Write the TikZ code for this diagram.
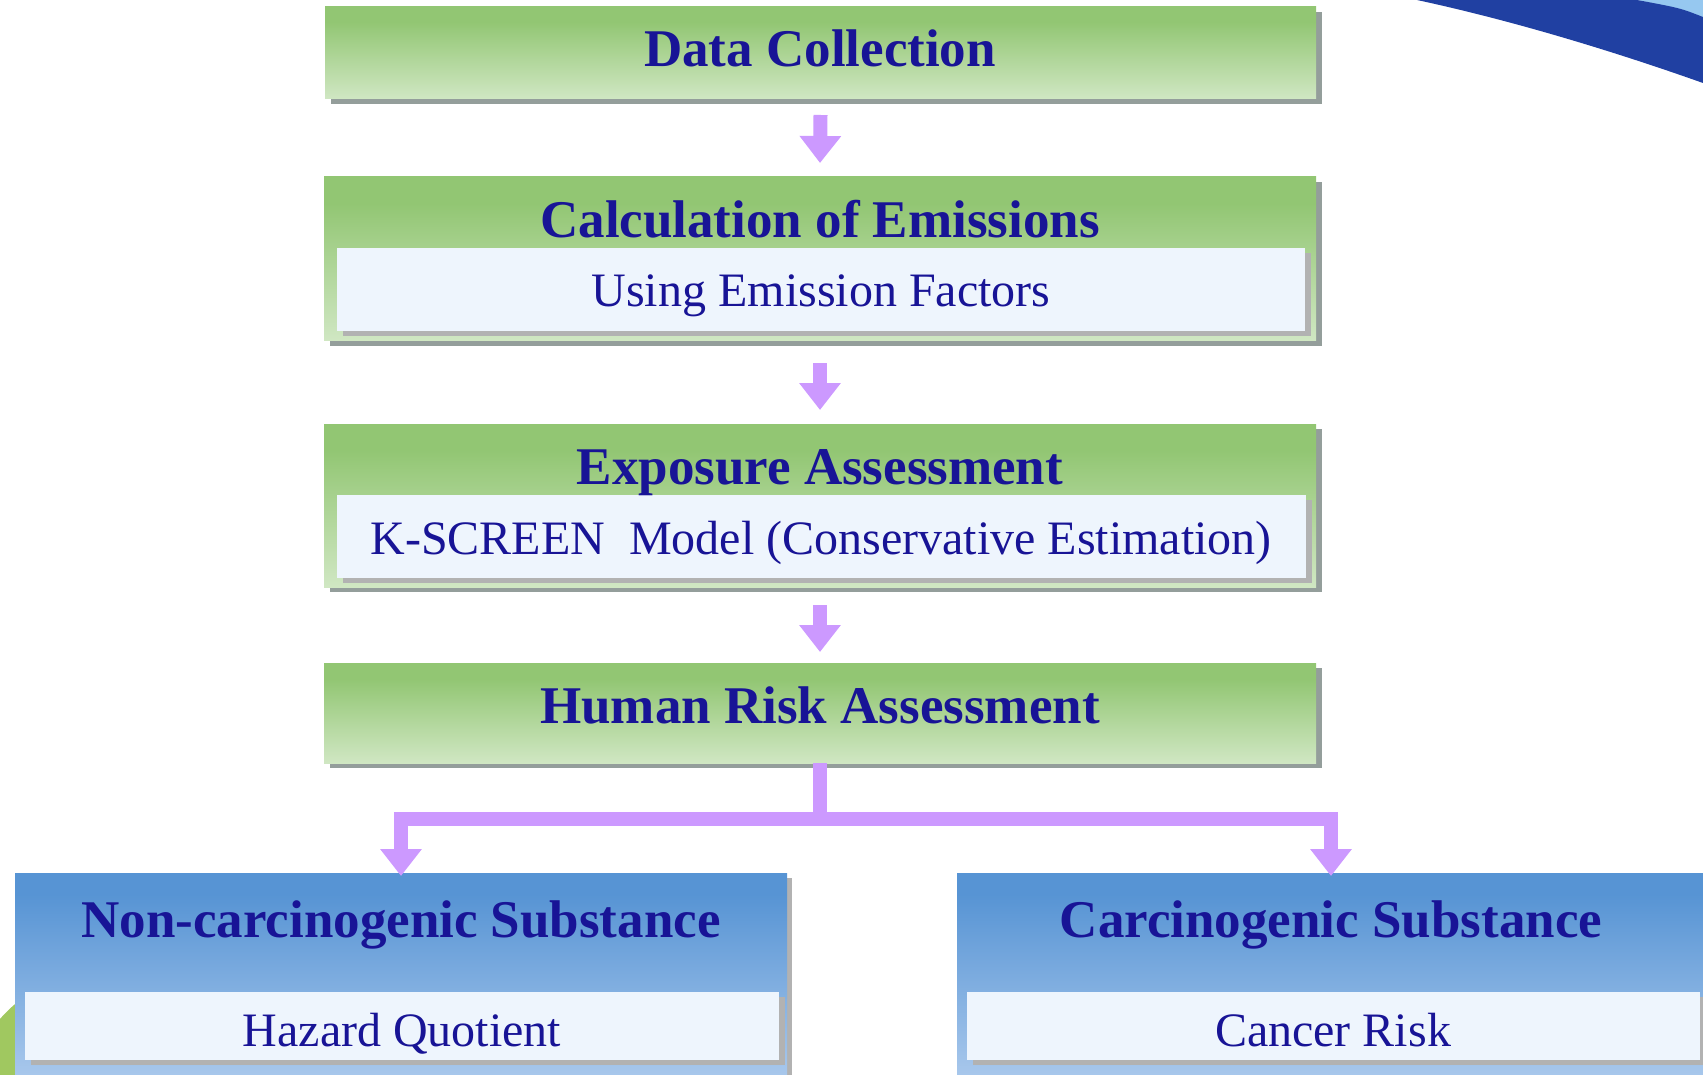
\documentclass[tikz,border=0pt]{standalone}
\usepackage{fontspec}
\setmainfont{Liberation Serif}
\usetikzlibrary{arrows.meta,shadows}

\definecolor{gtop}{RGB}{146,198,115}
\definecolor{gbot}{RGB}{208,231,195}
\definecolor{btop}{RGB}{87,148,212}
\definecolor{bbot}{RGB}{172,202,237}
\definecolor{shout}{RGB}{148,158,155}
\definecolor{shin}{RGB}{178,178,178}
\definecolor{innerfill}{RGB}{238,245,253}
\definecolor{txt}{RGB}{24,20,150}
\definecolor{arrowc}{RGB}{204,153,255}
\definecolor{swoosh}{RGB}{32,64,162}
\definecolor{swooshlight}{RGB}{150,200,240}
\definecolor{leaf}{RGB}{160,200,96}

% green and blue header fades: solid at the top, lighter towards the bottom
\pgfdeclareverticalshading{greenfade}{100bp}{color(0bp)=(gbot); color(25bp)=(gbot); color(67bp)=(gtop); color(100bp)=(gtop)}
\pgfdeclareverticalshading{bluefade}{100bp}{color(0bp)=(bbot); color(25bp)=(bbot); color(70bp)=(btop); color(100bp)=(btop)}

\tikzset{
  gbox/.style={rectangle, draw=none, shade, shading=greenfade, inner sep=0pt, outer sep=0pt,
    drop shadow={shadow xshift=6pt, shadow yshift=-5pt, fill=shout, opacity=1}},
  bbox/.style={rectangle, draw=none, shade, shading=bluefade, inner sep=0pt, outer sep=0pt,
    drop shadow={shadow xshift=5pt, shadow yshift=-5pt, fill=shin, opacity=1}},
  ibox/.style={rectangle, draw=none, fill=innerfill, inner sep=0pt, outer sep=0pt,
    drop shadow={shadow xshift=6pt, shadow yshift=-5pt, fill=shin, opacity=1}},
  ttl/.style={font=\bfseries\fontsize{53}{60}\selectfont, text=txt, inner sep=0pt, anchor=base},
  sub/.style={font=\fontsize{48}{56}\selectfont, text=txt, inner sep=0pt, anchor=base},
  flowarrow/.style={draw=arrowc, line width=14pt, line join=miter,
    -{Triangle[width=40pt,length=27pt]}}
}

\begin{document}
\begin{tikzpicture}[x=1pt,y=-1pt]
\useasboundingbox (0,0) rectangle (1703,1075);
\clip (0,0) rectangle (1703,1075);
\fill[white] (0,0) rectangle (1703,1075);

% decorative shapes at the corners
\fill[swooshlight] (1630,0) -- (1703,0) -- (1703,20) .. controls (1680,10) .. (1637,0) -- cycle;
\fill[swoosh] (1417,0) .. controls (1510,20) and (1610,50) .. (1703,83)
  -- (1703,17) .. controls (1680,8) .. (1637,0) -- cycle;
\fill[leaf] (110,1115) circle[radius=146];

% process boxes
\node[gbox, minimum width=991pt, minimum height=92pt] (b1) at (820.5,53) {};
\node[gbox, minimum width=992pt, minimum height=164pt] (b2) at (820,259) {};
\node[ibox, minimum width=968pt, minimum height=83pt] (i2) at (821,289.5) {};
\node[gbox, minimum width=992pt, minimum height=163pt] (b3) at (820,505.5) {};
\node[ibox, minimum width=969pt, minimum height=83pt] (i3) at (821.5,536.5) {};
\node[gbox, minimum width=992pt, minimum height=100pt] (b4) at (820,713) {};

\node[bbox, minimum width=772pt, minimum height=212pt] (nc) at (401,979) {};
\node[ibox, minimum width=754pt, minimum height=68pt] (inc) at (402,1026) {};
\node[bbox, minimum width=748pt, minimum height=212pt] (ca) at (1331,979) {};
\node[ibox, minimum width=733pt, minimum height=68pt] (ica) at (1333.5,1026) {};

% labels
\node[ttl] (t1) at (820,67) {Data Collection};
\node[ttl] (t2) at (820,238) {Calculation of Emissions};
\node[sub] (s2) at (821,307) {Using Emission Factors};
\node[ttl] (t3) at (820,484) {Exposure Assessment};
\node[sub] (s3) at (821,554) {K-SCREEN~~Model (Conservative Estimation)};
\node[ttl] (t4) at (820,723) {Human Risk Assessment};
\node[ttl] (tnc) at (401,937) {Non-carcinogenic Substance};
\node[sub] (snc) at (402,1046) {Hazard Quotient};
\node[ttl] (tca) at (1331,937) {Carcinogenic Substance};
\node[sub] (sca) at (1333,1046) {Cancer Risk};

% flow arrows
\draw[flowarrow] ([yshift=-16pt]b1.south) -- ([yshift=14pt]b2.north);
\draw[flowarrow] ([yshift=-22pt]b2.south) -- ([yshift=14pt]b3.north);
\draw[flowarrow] ([yshift=-18pt]b3.south) -- ([yshift=11pt]b4.north);

\coordinate (fork) at (820,819);
\draw[flowarrow] (b4.south) -- (fork) -| ([yshift=-3pt]nc.north);
\draw[flowarrow] (fork) -| ([yshift=-3pt]ca.north);
\end{tikzpicture}
\end{document}
